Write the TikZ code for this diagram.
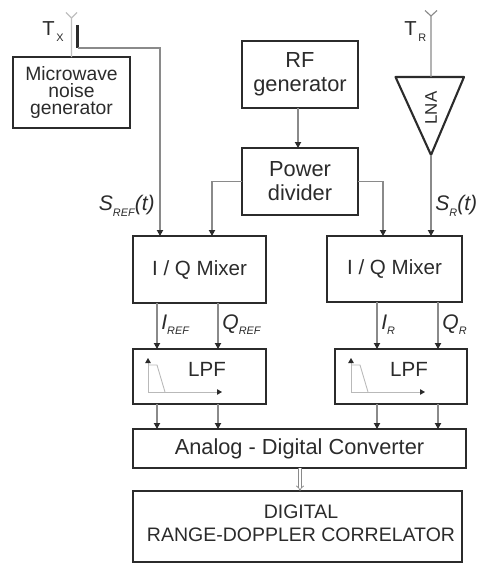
\documentclass[tikz,border=0pt]{standalone}
\usepackage{fontspec}
\setmainfont{Liberation Sans}
\usepackage{xcolor}
\usepackage{tikz}
\usetikzlibrary{arrows.meta, positioning, calc}
\definecolor{inkdark}{HTML}{2B2B2B}
\definecolor{wiregrey}{HTML}{8A8A8A}
\newcommand{\smalltxt}[1]{\raisebox{-0.5ex}{\fontsize{6.2}{8}\selectfont #1}}

\begin{document}
\begin{tikzpicture}[
    x=0.02cm, y=-0.02cm,
    block/.style={draw=inkdark, line width=1.2pt, inner sep=0pt, outer sep=0pt, align=center, text=inkdark},
    wire/.style={draw=wiregrey, line width=0.65pt},
    feed/.style={wire, -{Stealth[length=1.2mm, width=1.25mm, inset=0pt, inkdark]}},
    sizea/.style={font=\fontsize{11}{9.5}\selectfont},
    sizeb/.style={font=\fontsize{12.4}{13.7}\selectfont},
    sizec/.style={font=\fontsize{11.7}{14}\selectfont},
    sized/.style={font=\fontsize{11.1}{13}\selectfont},
    siglabel/.style={text=inkdark, inner sep=0pt, font=\fontsize{12}{15}\selectfont\itshape},
    antlabel/.style={text=inkdark, inner sep=0pt, font=\fontsize{11.5}{14}\selectfont}
]
\useasboundingbox (0,0) rectangle (477,563);
% Nodes
\node[block, sizea, minimum width=2.34cm, minimum height=1.42cm] (noise) at (71.5,92.5) {Microwave\\noise\\generator};
\node[block, sizeb, minimum width=2.32cm, minimum height=1.34cm] (rfgen) at (300,74.5) {RF\\generator};
\node[block, sizeb, minimum width=2.32cm, minimum height=1.34cm] (divider) at (300,181.5) {Power\\divider};
\node[block, sizec, minimum width=2.66cm, minimum height=1.34cm] (mixerL) at (199.5,269.5) {I / Q Mixer};
\node[block, sizec, minimum width=2.70cm, minimum height=1.32cm] (mixerR) at (394.5,269) {I / Q Mixer};
\node[block, minimum width=2.66cm, minimum height=1.10cm] (lpfL) at (199.5,376.5) {};
\node[block, minimum width=2.64cm, minimum height=1.10cm] (lpfR) at (401,376.5) {};
\node[block, sizeb, minimum width=6.66cm, minimum height=0.78cm] (adc) at (299.5,448.5) {Analog - Digital Converter};
\node[block, minimum width=6.58cm, minimum height=1.42cm] (correlator) at (297.5,526.5) {};
\node[sized, text=inkdark, align=center, inner sep=0pt] (corrtext) at (301,523.5) {DIGITAL\\RANGE-DOPPLER CORRELATOR};
\node[sizec, text=inkdark, inner sep=0pt] (lpftextL) at (207,369.5) {LPF};
\node[sizec, text=inkdark, inner sep=0pt] (lpftextR) at (409,369.5) {LPF};
% Antennas and the LNA
\coordinate (txtip) at (71.5,18);
\coordinate (rxtip) at (431,16);
\coordinate (txbar) at (77.5,25);
\coordinate (txfeed) at (77.5,48);
\coordinate (lnaL) at (395.5,77);
\coordinate (lnaR) at (464,77);
\coordinate (lnaIn) at (431,77);
\coordinate (lnaOut) at (431,155);
\draw[line width=1.2pt, draw=inkdark, line join=round] (lnaL) -- (lnaR) -- (lnaOut) -- cycle;
\node[text=inkdark, inner sep=0pt, rotate=90, font=\fontsize{9.6}{11}\selectfont] (lnatext) at (431,108) {LNA};
\draw[wire, draw=wiregrey!55] (noise.north -| txtip) -- (txtip) -- ++(-5.5,-5.5) (txtip) -- ++(5.5,-5.5);
\draw[wire] (lnaIn) -- (rxtip) -- ++(-6,-5.5) (rxtip) -- ++(6,-5.5);
\draw[line width=1.3pt, draw=inkdark] (txbar) -- (txfeed);
% Column positions of the feeds
\coordinate (colsref) at (160,0);
\coordinate (colloL) at (212,0);
\coordinate (colloR) at (383,0);
\coordinate (colsr) at (431,0);
\coordinate (colIa) at (157,0);
\coordinate (colQa) at (218,0);
\coordinate (colIb) at (377,0);
\coordinate (colQb) at (438,0);
% Edges
\draw[feed] (txfeed) -| (mixerL.north -| colsref);
\draw[feed] (rfgen.south -| 298,0) -- (divider.north -| 298,0);
\draw[feed] (divider.west) -| (mixerL.north -| colloL);
\draw[feed] (divider.east) -| (mixerR.north -| colloR);
\draw[feed] (lnaOut) -- (mixerR.north -| colsr);
\draw[feed] (mixerL.south -| colIa) -- (lpfL.north -| colIa);
\draw[feed] (mixerL.south -| colQa) -- (lpfL.north -| colQa);
\draw[feed] (mixerR.south -| colIb) -- (lpfR.north -| colIb);
\draw[feed] (mixerR.south -| colQb) -- (lpfR.north -| colQb);
\draw[feed] (lpfL.south -| colIa) -- (adc.north -| colIa);
\draw[feed] (lpfL.south -| colQa) -- (adc.north -| colQa);
\draw[feed] (lpfR.south -| colIb) -- (adc.north -| colIb);
\draw[feed] (lpfR.south -| colQb) -- (adc.north -| colQb);
\draw[draw=wiregrey, line width=0.4pt, double, double distance=1.2pt, -{Implies}] (adc.south -| 300,0) -- (correlator.north -| 300,0);
% Filter sketches
\draw[draw=wiregrey!60, line width=0.5pt] (148,365) -- (157,365) -- (165,392);
\draw[draw=wiregrey!60, line width=0.5pt, -{Stealth[length=1mm, width=1.1mm, inset=0pt, inkdark]}] (148,392) -- (148,358);
\draw[draw=wiregrey!60, line width=0.5pt, -{Stealth[length=1mm, width=1.1mm, inset=0pt, inkdark]}] (148,392) -- (222,392);
\draw[draw=wiregrey!60, line width=0.5pt] (351,365) -- (360,365) -- (368,392);
\draw[draw=wiregrey!60, line width=0.5pt, -{Stealth[length=1mm, width=1.1mm, inset=0pt, inkdark]}] (351,392) -- (351,358);
\draw[draw=wiregrey!60, line width=0.5pt, -{Stealth[length=1mm, width=1.1mm, inset=0pt, inkdark]}] (351,392) -- (425,392);
% Labels
\node[antlabel, anchor=base west] (txlabel) at (42,36) {T\hspace{1pt}\smalltxt{X}};
\node[antlabel, anchor=base west] (rxlabel) at (404,36) {T\hspace{1pt}\smalltxt{R}};
\node[siglabel, anchor=base east] (sreflabel) at (155,211) {S\smalltxt{REF}(t)};
\node[siglabel, anchor=base west] (srlabel) at (435,211) {S\smalltxt{R}(t)};
\node[siglabel, anchor=base west] (irefl) at (161,329) {I\smalltxt{REF}};
\node[siglabel, anchor=base west] (qrefl) at (222,329) {Q\smalltxt{REF}};
\node[siglabel, anchor=base west] (irl) at (381,329) {I\smalltxt{R}};
\node[siglabel, anchor=base west] (qrl) at (442,329) {Q\smalltxt{R}};
\end{tikzpicture}
\end{document}
